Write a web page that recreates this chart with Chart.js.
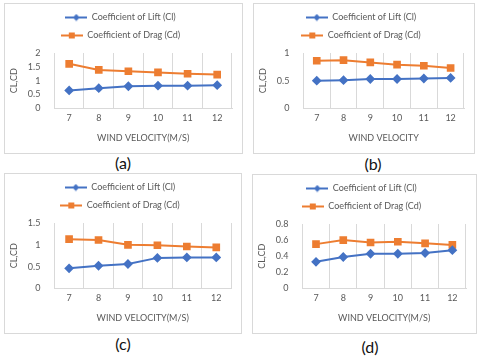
<!DOCTYPE html>
<html lang="en">
<head>
<meta charset="UTF-8">
<script src="https://cdn.jsdelivr.net/npm/chart.js"></script>
<title>Lift and drag coefficients</title>
<style>
  body { margin: 0; width: 480px; height: 360px; background: #fff; position: relative; overflow: hidden; font-family: Lato, "Open Sans", sans-serif; }
  .panel { position: absolute; border: 1px solid #d9d9d9; box-sizing: border-box; background: #fff; }
  .panel canvas { display: block; }
  .tag { position: absolute; width: 40px; margin-left: -20px; text-align: center; font-size: 16px; color: #111; line-height: 16px; }
</style>
</head>
<body>
<div class="panel" id="pa" style="left:4px;top:3px;width:239px;height:151px"><canvas id="ca"></canvas></div>
<div class="panel" id="pb" style="left:253px;top:3px;width:222px;height:151px"><canvas id="cb"></canvas></div>
<div class="panel" id="pc" style="left:4px;top:173px;width:238px;height:161px"><canvas id="cc"></canvas></div>
<div class="panel" id="pd" style="left:252px;top:174px;width:225px;height:160px"><canvas id="cd"></canvas></div>
<div class="tag" style="left:123px;top:155px">(a)</div>
<div class="tag" style="left:373px;top:156px">(b)</div>
<div class="tag" style="left:123px;top:336px">(c)</div>
<div class="tag" style="left:370px;top:339px">(d)</div>
<script>
// wind velocity categories (m/s)
const velocities = ['7', '8', '9', '10', '11', '12'];

// (a)
const liftA = [0.65, 0.73, 0.80, 0.82, 0.82, 0.84];
const dragA = [1.61, 1.39, 1.34, 1.30, 1.25, 1.22];
// (b)
const liftB = [0.50, 0.51, 0.53, 0.53, 0.54, 0.55];
const dragB = [0.86, 0.87, 0.83, 0.79, 0.77, 0.73];
// (c)
const liftC = [0.46, 0.52, 0.56, 0.70, 0.71, 0.71];
const dragC = [1.13, 1.11, 1.00, 0.99, 0.96, 0.94];
// (d)
const liftD = [0.33, 0.39, 0.43, 0.43, 0.44, 0.475];
const dragD = [0.55, 0.60, 0.57, 0.58, 0.56, 0.54];

// y axis ranges per panel
const yMaxes = [2, 1, 1.5, 0.8];
const ySteps = [0.5, 0.5, 0.5, 0.2];
const xTitles = ['WIND VELOCITY(M/S)', 'WIND VELOCITY', 'WIND VELOCITY(M/S)', 'WIND VELOCITY(M/S)'];
const yTitle = 'CL,CD';
const liftLabel = 'Coefficient of Lift (Cl)';
const dragLabel = 'Coefficient of Drag (Cd)';

const BLUE = '#4472c4';
const ORANGE = '#ed7d31';
const GREY = '#595959';
const GRID = '#d9d9d9';
const FONT = 'Lato, "Open Sans", sans-serif';

// little line+marker swatch for the legend, like the office style
function swatch(color, shape) {
  const c = document.createElement('canvas');
  c.width = 22; c.height = 8;
  const g = c.getContext('2d');
  g.strokeStyle = color; g.lineWidth = 2;
  g.beginPath(); g.moveTo(0, 4); g.lineTo(22, 4); g.stroke();
  g.fillStyle = color;
  if (shape === 'rect') {
    g.fillRect(8, 1, 6, 6);
  } else {
    g.beginPath(); g.moveTo(11, 0.5); g.lineTo(14.5, 4); g.lineTo(11, 7.5); g.lineTo(7.5, 4); g.closePath(); g.fill();
  }
  return c;
}
const liftSwatch = swatch(BLUE, 'rectRot');
const dragSwatch = swatch(ORANGE, 'rect');

// a bit more room under the legend
const legendGap = {
  id: 'legendGap',
  beforeInit(chart) {
    const fit = chart.legend.fit;
    chart.legend.fit = function () {
      fit.bind(chart.legend)();
      this.height += 3;
    };
  }
};

function makeChart(id, lift, drag, idx) {
  const ctx = document.getElementById(id).getContext('2d');
  return new Chart(ctx, {
    type: 'line',
    data: {
      labels: velocities,
      datasets: [{
        label: liftLabel,
        data: lift,
        borderColor: BLUE,
        backgroundColor: BLUE,
        borderWidth: 2,
        pointStyle: 'rectRot',
        pointRadius: 3.5,
        fill: false,
        tension: 0
      }, {
        label: dragLabel,
        data: drag,
        borderColor: ORANGE,
        backgroundColor: ORANGE,
        borderWidth: 2,
        pointStyle: 'rect',
        pointRadius: 4,
        fill: false,
        tension: 0
      }]
    },
    plugins: [legendGap],
    options: {
      responsive: true,
      maintainAspectRatio: false,
      animation: false,
      layout: { padding: { top: 0, right: 10, bottom: 10, left: 4 } },
      plugins: {
        tooltip: { enabled: false },
        legend: {
          position: 'top',
          labels: {
            color: GREY,
            font: { family: FONT, size: 9 },
            padding: 9,
            usePointStyle: true,
            pointStyleWidth: 22,
            generateLabels: chart => {
              const items = Chart.defaults.plugins.legend.labels.generateLabels(chart);
              items.forEach((it, i) => { it.pointStyle = i === 0 ? liftSwatch : dragSwatch; });
              return items;
            }
          }
        }
      },
      scales: {
        x: {
          offset: true,
          grid: { display: true, offset: true, color: GRID, drawTicks: false },
          border: { display: true, color: GRID },
          ticks: { color: GREY, font: { family: FONT, size: 9 }, padding: 4 },
          title: { display: true, text: xTitles[idx], color: GREY, font: { family: FONT, size: 9 }, padding: { top: 5, bottom: 0 } }
        },
        y: {
          min: 0,
          max: yMaxes[idx],
          grid: { display: false },
          border: { display: false },
          ticks: {
            stepSize: ySteps[idx], color: GREY, font: { family: FONT, size: 9 }, padding: 6,
            callback: v => String(+v.toFixed(2))
          },
          title: { display: true, text: yTitle, color: GREY, font: { family: FONT, size: 9 }, padding: { top: 0, bottom: 2 } }
        }
      }
    }
  });
}

makeChart('ca', liftA, dragA, 0);
makeChart('cb', liftB, dragB, 1);
makeChart('cc', liftC, dragC, 2);
makeChart('cd', liftD, dragD, 3);
</script>
</body>
</html>
